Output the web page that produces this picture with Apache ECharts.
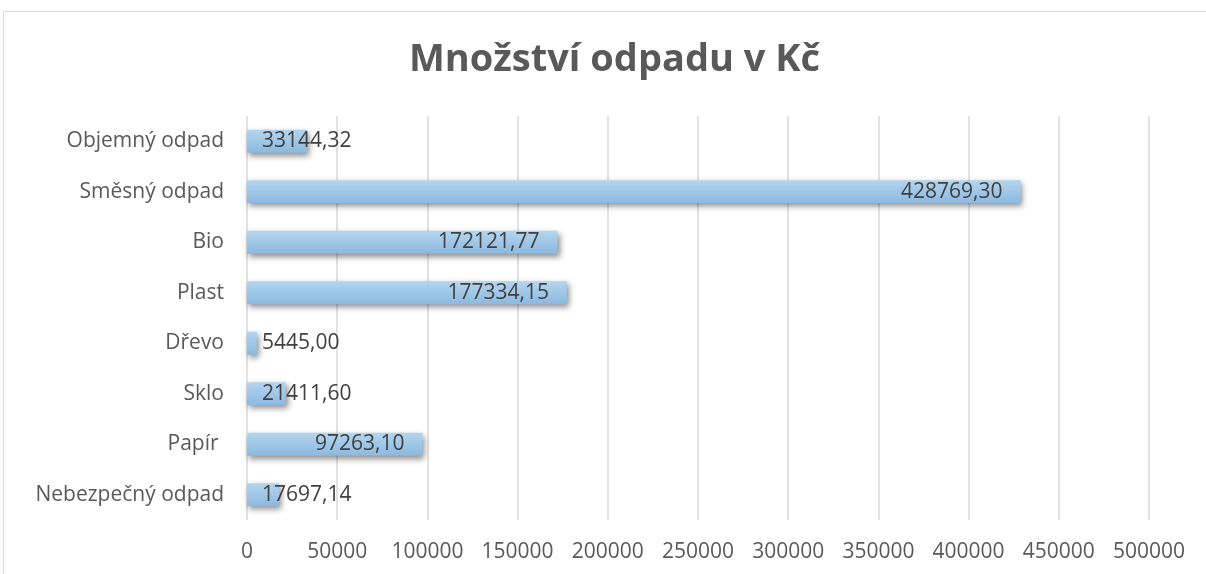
<!DOCTYPE html>
<html>
<head>
<meta charset="utf-8">
<script src="https://cdn.jsdelivr.net/npm/echarts@6/dist/echarts.min.js"></script>
<style>
html,body{margin:0;padding:0;background:#fff;}
#chart{width:1206px;height:574px;}
</style>
</head>
<body>
<div id="chart"></div>
<script>
const categories = ["Nebezpečný odpad", "Papír ", "Sklo", "Dřevo", "Plast", "Bio", "Směsný odpad", "Objemný odpad"];
const values = [17697.14, 97263.10, 21411.60, 5445.00, 177334.15, 172121.77, 428769.30, 33144.32];
const axisMin = 0, axisMax = 500000, axisStep = 50000;

function fmt(v){ return v.toFixed(2).replace('.', ','); }

const chart = echarts.init(document.getElementById('chart'));
const data = values.map(v => ({
  value: v,
  label: v > 60000
    ? { position: 'insideRight', distance: 18 }
    : { position: 'insideLeft', distance: 15 }
}));

chart.setOption({
  animation: false,
  title: {
    text: 'Množství odpadu v Kč',
    left: 404,
    top: 36,
    textStyle: { fontFamily: 'Open Sans', fontWeight: 'bold', fontSize: 38, color: '#595959' }
  },
  graphic: [{
    type: 'rect', silent: true, z: -1,
    shape: { x: 3.5, y: 11.5, width: 1300, height: 700 },
    style: { fill: 'none', stroke: '#d9d9d9', lineWidth: 1 }
  }],
  grid: { left: 247, right: 57, top: 116, bottom: 54, containLabel: false },
  xAxis: {
    type: 'value', min: axisMin, max: axisMax, interval: axisStep,
    axisLine: { show: false }, axisTick: { show: false },
    axisLabel: { color: '#595959', fontSize: 21, fontFamily: 'Open Sans', margin: 22, formatter: v => String(v) },
    splitLine: { lineStyle: { color: '#d9d9d9', width: 1.5 } }
  },
  yAxis: {
    type: 'category', data: categories,
    axisLine: { show: false }, axisTick: { show: false },
    axisLabel: { color: '#595959', fontSize: 21, fontFamily: 'Open Sans', margin: 23 }
  },
  series: [{
    type: 'bar', data: data, barWidth: 23,
    itemStyle: {
      color: new echarts.graphic.LinearGradient(0, 0, 0, 1, [
        { offset: 0, color: '#b3d5ef' },
        { offset: 1, color: '#8cb9e0' }
      ]),
      shadowColor: 'rgba(0,0,0,0.45)', shadowBlur: 6, shadowOffsetX: 2, shadowOffsetY: 3
    },
    label: {
      show: true, formatter: p => fmt(p.value),
      color: '#404040', fontSize: 21, fontFamily: 'Open Sans'
    }
  }]
});
</script>
</body>
</html>
